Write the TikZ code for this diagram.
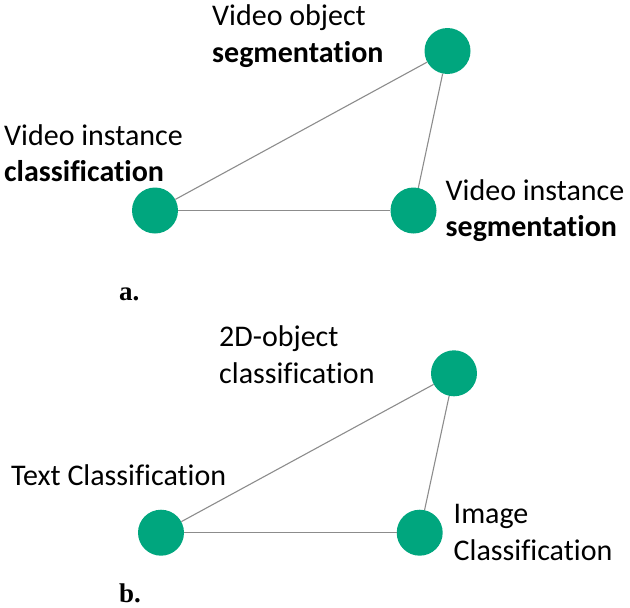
\documentclass[tikz,border=0pt]{standalone}
\usepackage{fontspec}
\setmainfont{Carlito}[Ligatures=NoCommon]
\newfontfamily\capfont{Liberation Serif}
\definecolor{nodegreen}{RGB}{0,166,126}
\definecolor{edgegray}{RGB}{140,140,140}
\tikzset{
  dot/.style={circle, fill=nodegreen, draw=none, minimum size=46pt, inner sep=0pt},
  lbl/.style={anchor=base west, inner sep=0pt, font=\fontsize{30}{36}\selectfont},
  blbl/.style={lbl, font=\fontsize{30}{36}\selectfont\bfseries},
  panelcap/.style={anchor=base west, inner sep=0pt, font=\fontsize{27}{30}\selectfont\capfont\bfseries},
  link/.style={draw=edgegray, line width=1.1pt}
}
\begin{document}
\begin{tikzpicture}[x=1pt,y=-1pt]
\useasboundingbox (0,0) rectangle (630,608);
% panel a
\node[dot] (aT) at (447.5,51) {};
\node[dot] (aL) at (155,210.5) {};
\node[dot] (aR) at (413.5,210.5) {};
\draw[link] (aL) -- (aT);
\draw[link] (aT) -- (aR);
\draw[link] (aL) -- (aR);
\node[lbl] (aT1) at (212,25) {Video object};
\node[blbl] (aT2) at (212,62) {segmentation};
\node[lbl] (aL1) at (4,145) {Video instance};
\node[blbl] (aL2) at (4,181.5) {classification};
\node[lbl] (aR1) at (445.5,200) {Video instance};
\node[blbl] (aR2) at (445.5,236.5) {segmentation};
\node[panelcap] (acap) at (119,300) {a.};
% panel b
\node[dot] (bT) at (454,373.3) {};
\node[dot] (bL) at (161,532.7) {};
\node[dot] (bR) at (419.7,532.7) {};
\draw[link] (bL) -- (bT);
\draw[link] (bT) -- (bR);
\draw[link] (bL) -- (bR);
\node[lbl] (bT1) at (219,346.7) {2D-object};
\node[lbl] (bT2) at (219,383.3) {classification};
\node[lbl] (bL1) at (11,485.3) {Text Classification};
\node[lbl] (bR1) at (453.5,523.3) {Image};
\node[lbl] (bR2) at (453.5,560) {Classification};
\node[panelcap] (bcap) at (119,602) {b.};
\end{tikzpicture}
\end{document}
